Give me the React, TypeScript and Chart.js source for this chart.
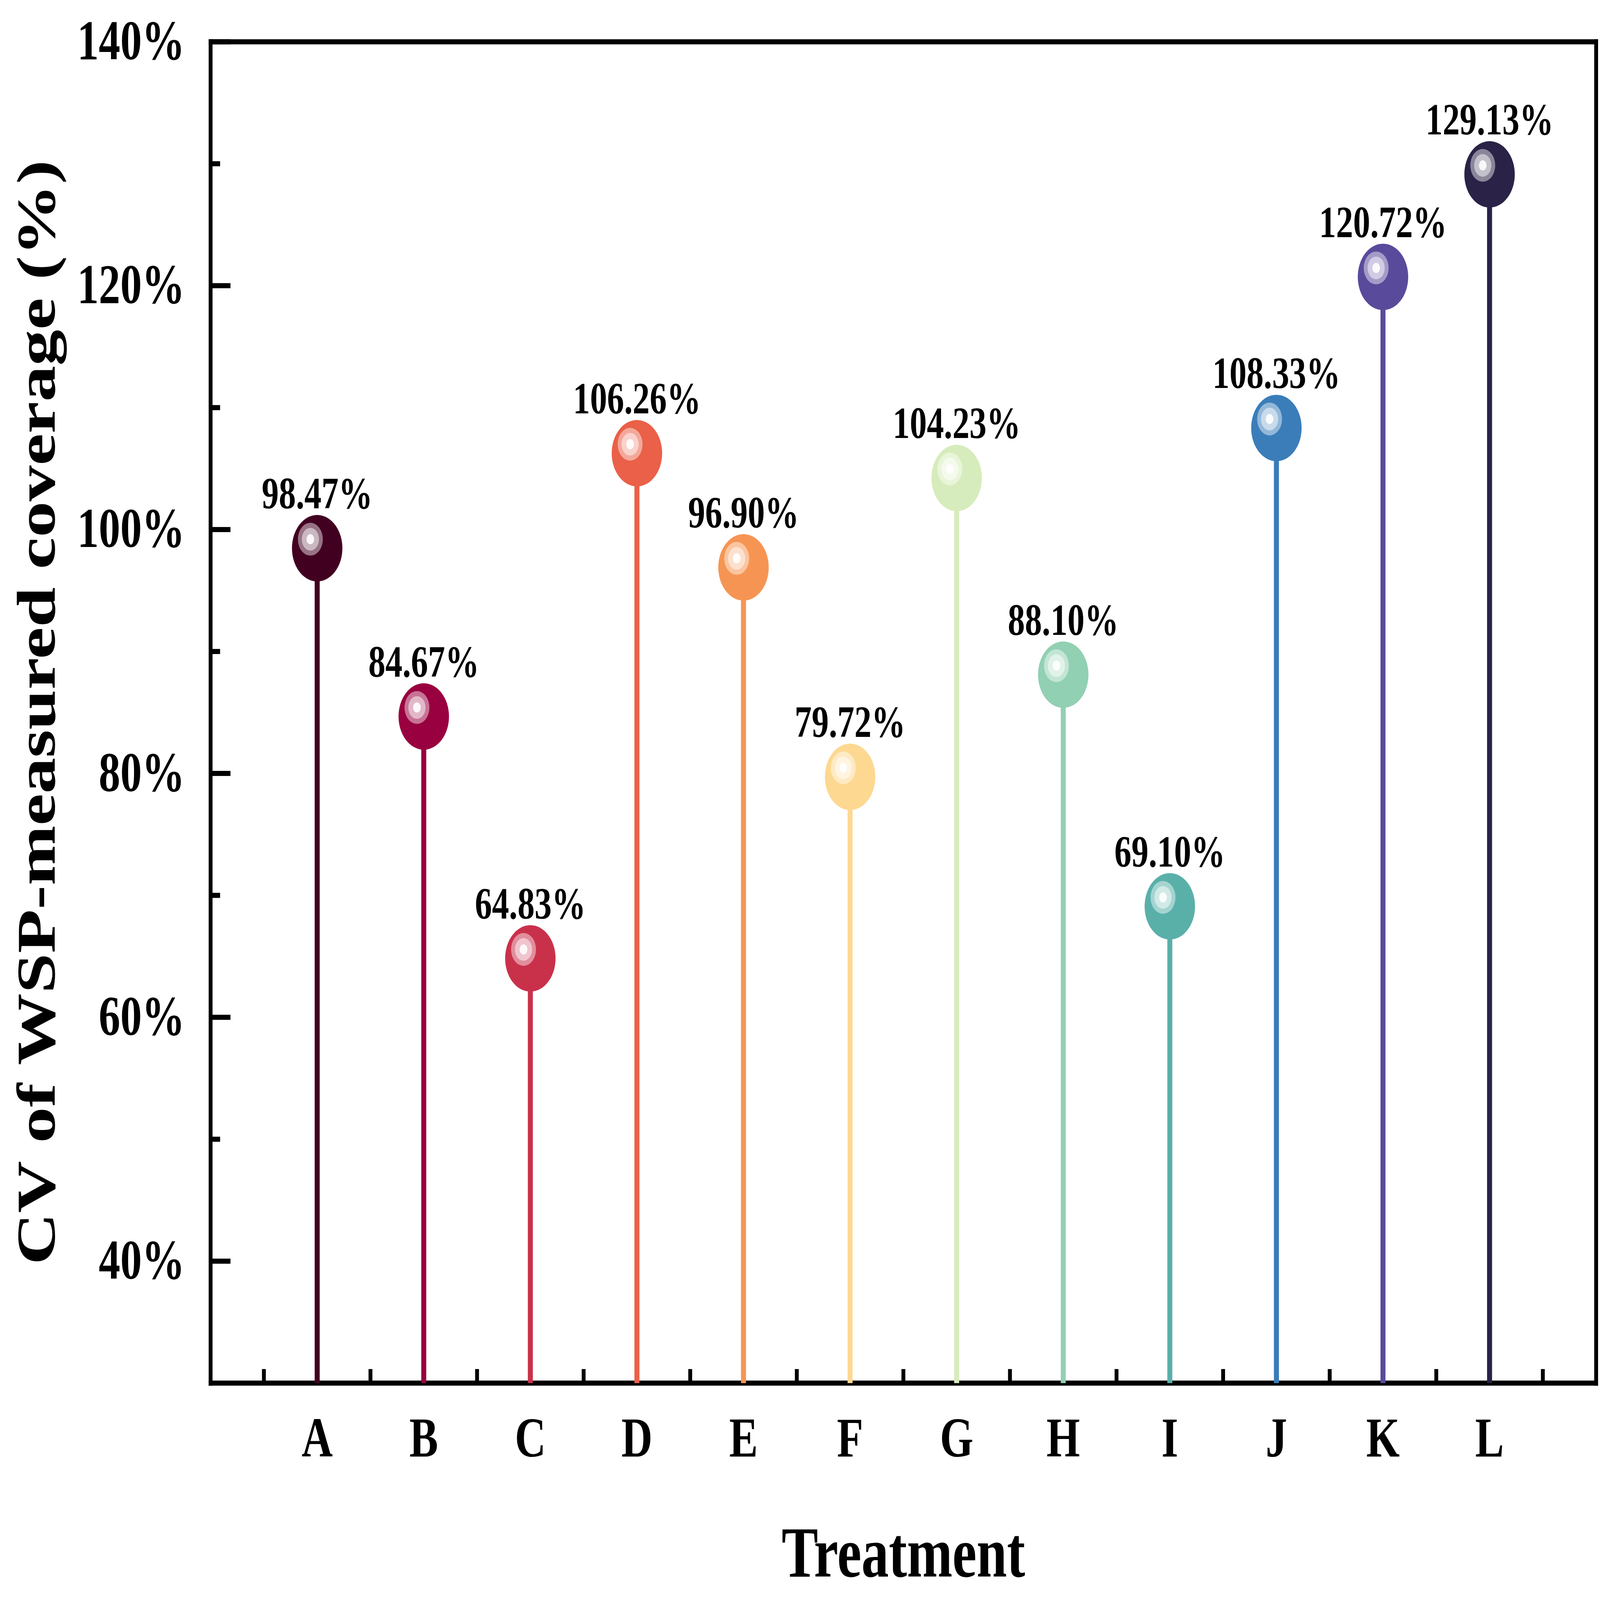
import { useEffect, useRef } from "react"
import { Chart, registerables } from "chart.js"

Chart.register(...registerables)

const treatments = ["A", "B", "C", "D", "E", "F", "G", "H", "I", "J", "K", "L"]
const cvValues = [98.47, 84.67, 64.83, 106.26, 96.9, 79.72, 104.23, 88.1, 69.1, 108.33, 120.72, 129.13]
const pointColors = [
  "#420021",
  "#99003f",
  "#c9314b",
  "#ea6048",
  "#f69553",
  "#fdd891",
  "#d7ecbc",
  "#92d0b3",
  "#59b0a9",
  "#3a7db9",
  "#5a4a9b",
  "#2a2247",
]
const yMajorTicks = [40, 60, 80, 100, 120, 140]
const yMinorTicks = [50, 70, 90, 110, 130]
const xMinorTicks = [0.5, 1.5, 2.5, 3.5, 4.5, 5.5, 6.5, 7.5, 8.5, 9.5, 10.5, 11.5, 12.5]

const FONT = "'Times New Roman', 'Liberation Serif', serif"
// design size of the figure, all sizes below are in these units
const BASE_W = 5394
const BASE_H = 4090

// mix a hex colour towards white
function tint(hex: string, t: number) {
  const n = parseInt(hex.slice(1), 16)
  const r = (n >> 16) & 255
  const g = (n >> 8) & 255
  const b = n & 255
  const m = (c: number) => Math.round(c + (255 - c) * t)
  return `rgb(${m(r)}, ${m(g)}, ${m(b)})`
}

export default function App() {
  const wrapRef = useRef<HTMLDivElement>(null)
  const chartRef = useRef<HTMLCanvasElement>(null)
  const chartInstance = useRef<Chart | null>(null)

  useEffect(() => {
    if (!chartRef.current || !wrapRef.current) return
    document.body.style.margin = "0"
    document.body.style.overflow = "hidden"

    if (chartInstance.current) {
      chartInstance.current.destroy()
    }

    const kx = wrapRef.current.clientWidth / BASE_W
    const ky = wrapRef.current.clientHeight / BASE_H

    const points = treatments.map((_, i) => ({ x: i + 1, y: cvValues[i] }))

    // text drawn in design units, stretched to the page like the rest of the figure
    const drawText = (
      ctx: CanvasRenderingContext2D,
      text: string,
      x: number,
      y: number,
      size: number,
      align: CanvasTextAlign,
      vertical = false
    ) => {
      ctx.save()
      ctx.translate(x, y)
      if (vertical) {
        ctx.rotate(-Math.PI / 2)
        ctx.scale(ky, kx)
      } else {
        ctx.scale(kx, ky)
      }
      ctx.font = `bold ${size}px ${FONT}`
      ctx.fillStyle = "#000"
      ctx.textAlign = align
      ctx.textBaseline = "alphabetic"
      ctx.fillText(text, 0, 0)
      ctx.restore()
    }

    const framePlugin = {
      id: "frame",
      beforeDatasetsDraw(chart: any) {
        const { ctx, chartArea } = chart
        const { left, right, top, bottom } = chartArea
        const xs = chart.scales.x
        const ys = chart.scales.y
        ctx.save()
        ctx.fillStyle = "#000"
        const lx = 13 * kx
        const ly = 13 * ky
        // box
        ctx.fillRect(left - lx / 2, top - ly / 2, right - left + lx, ly)
        ctx.fillRect(left - lx / 2, bottom - ly / 2, right - left + lx, ly)
        ctx.fillRect(left - lx / 2, top - ly / 2, lx, bottom - top + ly)
        ctx.fillRect(right - lx / 2, top - ly / 2, lx, bottom - top + ly)
        // inward ticks
        yMajorTicks.forEach((v) => {
          const y = ys.getPixelForValue(v)
          ctx.fillRect(left, y - ly / 2, 67 * kx, ly)
        })
        yMinorTicks.forEach((v) => {
          const y = ys.getPixelForValue(v)
          ctx.fillRect(left, y - ly / 2, 32 * kx, ly)
        })
        xMinorTicks.forEach((v) => {
          const x = xs.getPixelForValue(v)
          ctx.fillRect(x - lx / 2, bottom - 36 * ky, lx, 36 * ky)
        })
        ctx.restore()
      },
      afterDraw(chart: any) {
        const { ctx, chartArea } = chart
        const { left, right, top, bottom } = chartArea
        const xs = chart.scales.x
        const ys = chart.scales.y
        yMajorTicks.forEach((v) => {
          drawText(ctx, v + "%", left - 87 * kx, ys.getPixelForValue(v) + 45 * ky, 145, "right")
        })
        treatments.forEach((t, i) => {
          drawText(ctx, t, xs.getPixelForValue(i + 1), bottom + 188 * ky, 145, "center")
        })
        drawText(ctx, "Treatment", (left + right) / 2, bottom + 495 * ky, 184, "center")
        drawText(ctx, "CV of WSP-measured coverage (%)", 185 * kx, (top + bottom) / 2, 184, "center", true)
      },
    }

    // glossy balls with value labels above them
    const ballPlugin = {
      id: "balls",
      afterDatasetsDraw(chart: any) {
        const { ctx } = chart
        const meta = chart.getDatasetMeta(1)
        ctx.save()
        meta.data.forEach((pt: any, i: number) => {
          ctx.fillStyle = pointColors[i]
          ctx.beginPath()
          ctx.ellipse(pt.x, pt.y, 85 * kx, 85 * ky, 0, 0, Math.PI * 2)
          ctx.fill()
          const hx = pt.x - 23 * kx
          const hy = pt.y - 23 * ky
          const rings: [number, number][] = [
            [42, 0.45],
            [29, 0.72],
            [13, 0.97],
          ]
          rings.forEach(([rad, t]) => {
            ctx.fillStyle = tint(pointColors[i], t)
            ctx.beginPath()
            ctx.ellipse(hx, hy, rad * kx, rad * ky, 0, 0, Math.PI * 2)
            ctx.fill()
          })
        })
        ctx.restore()
        meta.data.forEach((pt: any, i: number) => {
          drawText(ctx, cvValues[i].toFixed(2) + "%", pt.x, pt.y - 102 * ky, 115, "center")
        })
      },
    }

    chartInstance.current = new Chart(chartRef.current, {
      type: "bar",
      data: {
        datasets: [
          {
            type: "bar",
            data: points,
            backgroundColor: pointColors,
            barThickness: 16 * kx,
            order: 2,
          },
          {
            type: "scatter",
            data: points,
            pointRadius: 0,
            order: 1,
          },
        ],
      } as any,
      options: {
        responsive: true,
        maintainAspectRatio: false,
        animation: false,
        events: [],
        layout: {
          padding: { top: 107 * ky, right: 13 * kx, left: 0, bottom: 0 },
        },
        plugins: {
          legend: { display: false },
          tooltip: { enabled: false },
        },
        scales: {
          x: {
            type: "linear",
            min: 0,
            max: 13,
            offset: false,
            afterFit: (s: any) => {
              s.height = 550 * ky
            },
            grid: { display: false, drawTicks: false, offset: false },
            border: { display: false },
            ticks: { display: false },
          },
          y: {
            type: "linear",
            min: 30,
            max: 140,
            afterFit: (s: any) => {
              s.width = 710 * kx
            },
            grid: { display: false, drawTicks: false },
            border: { display: false },
            ticks: { display: false },
          },
        },
      } as any,
      plugins: [framePlugin, ballPlugin],
    })

    return () => {
      if (chartInstance.current) {
        chartInstance.current.destroy()
        chartInstance.current = null
      }
    }
  }, [])

  return (
    <div
      ref={wrapRef}
      style={{ position: "fixed", left: 0, top: 0, width: "100vw", height: "100vh", background: "#fff" }}
    >
      <canvas ref={chartRef} />
    </div>
  )
}
